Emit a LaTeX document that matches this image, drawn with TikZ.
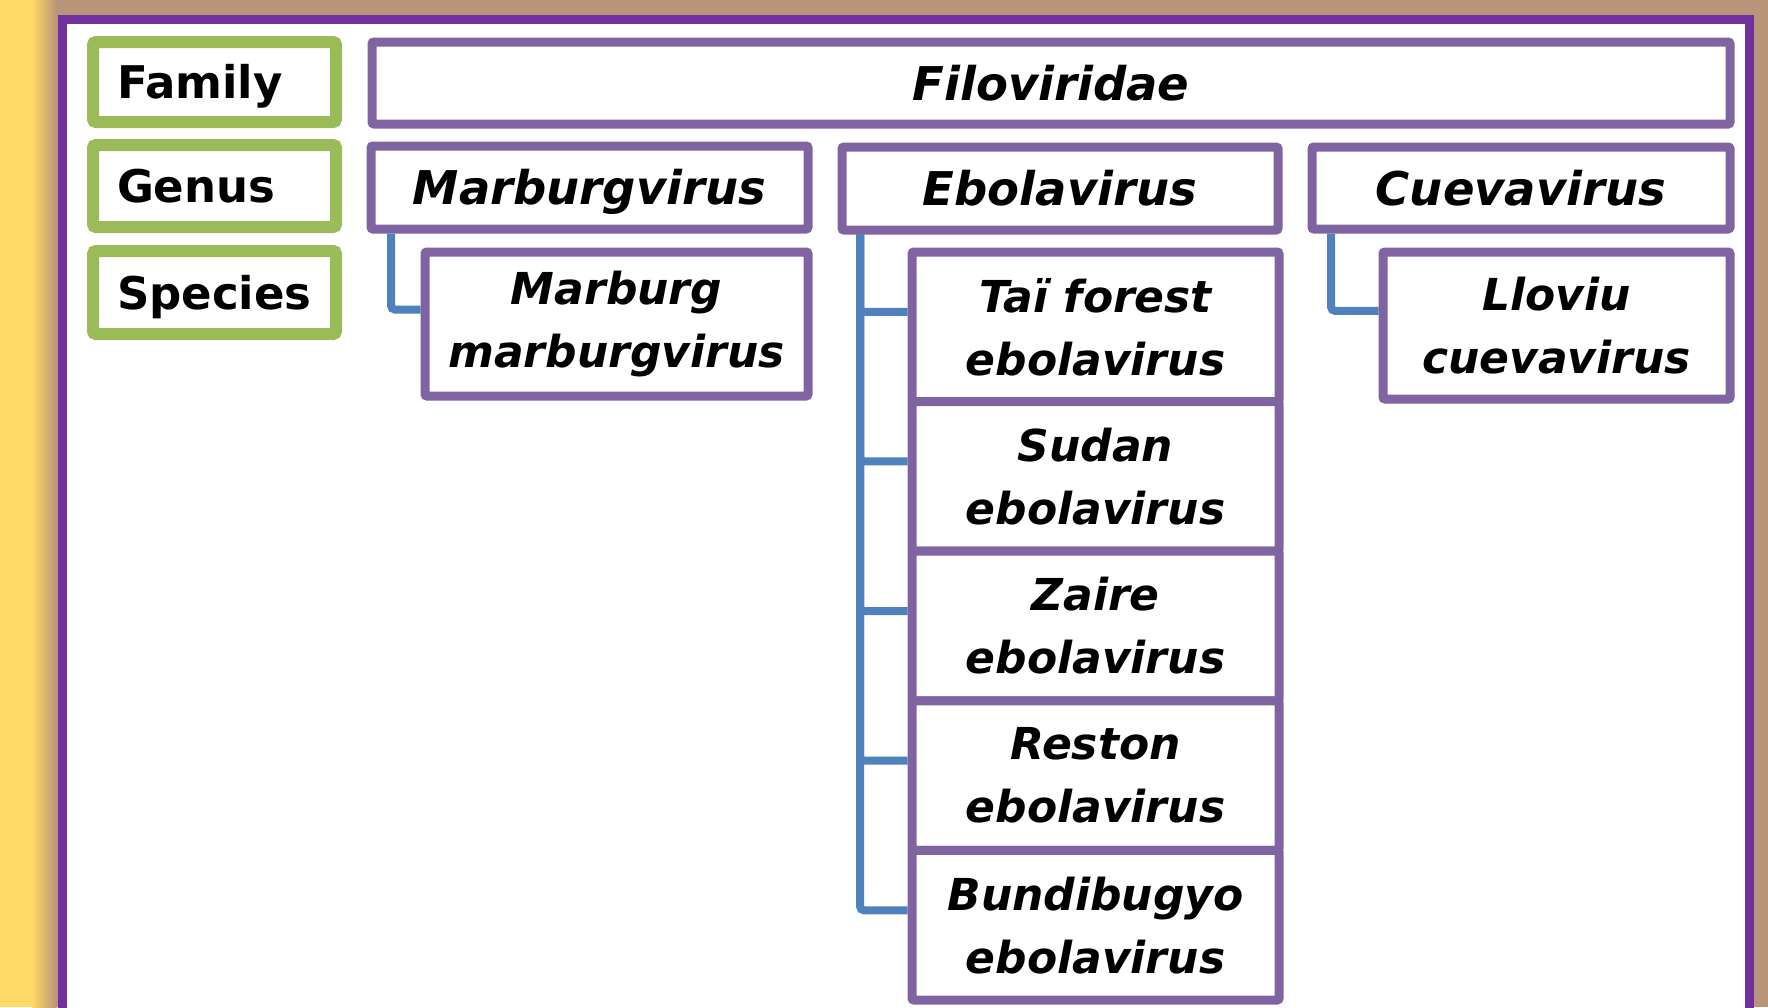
\documentclass[tikz,border=0pt]{standalone}
\usepackage{fontspec}
\setmainfont{DejaVu Sans}
\usetikzlibrary{positioning, calc}
\definecolor{bgyellow}{RGB}{255,217,102}
\definecolor{shadowtan}{RGB}{184,148,120}
\definecolor{framepurple}{RGB}{112,48,160}
\definecolor{boxpurple}{RGB}{128,100,162}
\definecolor{rankgreen}{RGB}{155,187,89}
\definecolor{linkblue}{RGB}{79,129,189}
\tikzset{
x=1pt, y=-1pt, % one unit is one pixel of the picture, y runs downwards
rank/.style={draw=rankgreen, line width=12pt, rounded corners=3pt, fill=white,
  anchor=north west, inner xsep=24pt, inner ysep=0pt, outer sep=0pt,
  minimum width=243pt, text width=195pt, align=left,
  font=\fontsize{45}{54}\selectfont\bfseries, text height=33pt, text depth=0pt}, % green rank labels
taxon/.style={draw=boxpurple, line width=9pt, rounded corners=2pt, fill=white,
  anchor=north west, inner sep=0pt, outer sep=0pt,
  font=\fontsize{46.5}{56}\selectfont\bfseries\itshape, text height=34pt, text depth=0pt}, % family and genus boxes
species/.style={draw=boxpurple, line width=9pt, rounded corners=2pt, fill=white,
  anchor=north west, inner sep=0pt, outer sep=0pt, align=center,
  font=\fontsize{44}{63}\selectfont\bfseries\itshape}, % two-line species boxes
branch/.style={draw=linkblue, line width=8pt, rounded corners=4pt,
  shorten <=4.5pt, shorten >=4.5pt}, % blue tree lines
}

\begin{document}
\begin{tikzpicture}
\useasboundingbox (0,0) rectangle (1768,1007);
\clip (0,0) rectangle (1768,1007);
% background, shadow and frame
\fill[bgyellow] (0,0) rectangle (1768,1007);
\shade[left color=bgyellow, right color=shadowtan] (32,0) rectangle (57,1007);
\fill[shadowtan] (57,0) rectangle (1768,1007);
\draw[framepurple, line width=9pt, fill=white] (62,19) rectangle (1749,1040);

% ranks
\node[rank, minimum height=80pt] (family) at (93,42) {Family};
\node[rank, minimum height=82pt] (genus) at (93,145) {Genus};
\node[rank, minimum height=83pt] (species) at (93,251) {Species};

% family and genera
\node[taxon, minimum width=1358pt, minimum height=82pt] (filo) at (372,42) {Filoviridae};
\node[taxon, minimum width=437pt, minimum height=83pt] (marburg) at (371,146) {Marburgvirus};
\node[taxon, minimum width=436pt, minimum height=83pt] (ebola) at (842,147) {Ebolavirus};
\node[taxon, minimum width=418pt, minimum height=82pt] (cueva) at (1312,147) {Cuevavirus};

% species
\node[species, minimum width=383pt, minimum height=144pt] (mmarburg) at (425,252) {Marburg\\marburgvirus};
\node[species, minimum width=367pt, minimum height=149.6pt] (tai) at (912,252) {Taï forest\\ebolavirus};
\node[species, minimum width=367pt, minimum height=149.6pt, below=0pt of tai] (sudan) {Sudan\\ebolavirus};
\node[species, minimum width=367pt, minimum height=149.6pt, below=0pt of sudan] (zaire) {Zaire\\ebolavirus};
\node[species, minimum width=367pt, minimum height=149.6pt, below=0pt of zaire] (reston) {Reston\\ebolavirus};
\node[species, minimum width=367pt, minimum height=149.6pt, below=0pt of reston] (bundi) {Bundibugyo\\ebolavirus};
\node[species, minimum width=347pt, minimum height=147pt] (lloviu) at (1383,252) {Lloviu\\cuevavirus};

% tree lines
\draw[branch] ([xshift=20pt]marburg.south west) |- ($(mmarburg.north west)!0.4!(mmarburg.south west)$);
\foreach \s in {tai,sudan,zaire,reston,bundi}
  \draw[branch] ([xshift=18pt]ebola.south west) |- ($(\s.north west)!0.4!(\s.south west)$);
\draw[branch] ([xshift=19pt]cueva.south west) |- ($(lloviu.north west)!0.4!(lloviu.south west)$);
\end{tikzpicture}
\end{document}
